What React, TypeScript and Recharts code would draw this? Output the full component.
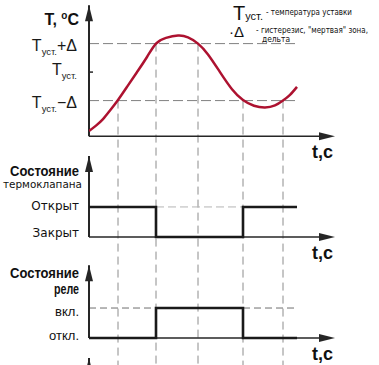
import { ComposedChart, Line, XAxis, YAxis, ReferenceLine, ReferenceDot } from "recharts";

// время, с
const time = [0, 7, 14, 21, 29, 38, 48, 58, 67, 77, 89, 99, 109, 119, 131, 143, 154, 165, 176, 186, 194, 201, 208];
// температура относительно Tуст., в долях Δ
const temperature = [-2.07, -1.88, -1.65, -1.35, -0.98, -0.52, 0.0, 0.53, 1.0, 1.2, 1.28, 1.22, 1.0, 0.62, 0.0, -0.6, -0.98, -1.18, -1.24, -1.17, -1.0, -0.8, -0.52];

const stateTime = [0, 67, 154, 208];
const valveState = [1, 0, 1, 1];
const relayState = [0, 1, 0, 0];

// моменты переключения и уровень, на котором они происходят
const switchTimes = [29, 67, 109, 154, 194];
const switchLevels = [-1, 1, 1, -1, -1];

const tempTicks = [1, 0, -1];
const tempTickSuffix = ["+Δ", "", "−Δ"];
const valveTicks = [1, 0];
const valveTickLabels = ["Открыт", "Закрыт"];
const relayTicks = [1, 0];
const relayTickLabels = ["вкл.", "откл."];

const T_DOMAIN = [-10.28, 2.53];
const V_DOMAIN = [-4.27, 7.9];
const R_DOMAIN = [-0.9, 11.27];
const T_END = 246;
const T_LAST = 208;

const tempData = time.map((t, i) => ({ t, v: temperature[i] }));
const valveData = stateTime.map((t, i) => ({ t, v: valveState[i] }));
const relayData = stateTime.map((t, i) => ({ t, v: relayState[i] }));

const SANS = "'Liberation Sans', Arial, sans-serif";
const WIDE = "'DejaVu Sans', Verdana, sans-serif";
const AXIS = "#262626";

const arrowUp = (p: any) => (
  <path d={`M${p.cx},${p.cy} L${p.cx - 4},${p.cy + 16} L${p.cx + 4},${p.cy + 16} Z`} fill={AXIS} />
);

const arrowRight = (p: any) => (
  <g>
    <path d={`M${p.cx},${p.cy} L${p.cx - 16},${p.cy - 4} L${p.cx - 16},${p.cy + 4} Z`} fill={AXIS} />
    <text x={p.cx - 2} y={p.cy + 22} textAnchor="end" fontFamily={SANS} fontWeight="bold" fontSize={18} fill="#111">
      t,c
    </text>
  </g>
);

function Axes({ id, bottom, top }: { id: string; bottom: number; top: number }) {
  return (
    <>
      <ReferenceLine yAxisId={id} segment={[{ x: 0, y: bottom }, { x: 0, y: top }]} stroke={AXIS} strokeWidth={2} ifOverflow="visible" />
      <ReferenceLine yAxisId={id} segment={[{ x: 0, y: bottom }, { x: T_END - 10, y: bottom }]} stroke={AXIS} strokeWidth={1.6} ifOverflow="visible" />
      <ReferenceDot yAxisId={id} x={0} y={top} r={0} shape={arrowUp} ifOverflow="visible" />
      <ReferenceDot yAxisId={id} x={T_END} y={bottom} r={0} shape={arrowRight} ifOverflow="visible" />
    </>
  );
}

export default function App() {
  return (
    <div style={{ position: "relative", width: 379, height: 365, background: "#fff" }}>
      <style>{"body{margin:0}"}</style>
      <ComposedChart width={379} height={365} margin={{ top: 0, right: 44, bottom: 0, left: 89 }}>
        <XAxis dataKey="t" type="number" domain={[0, T_END]} hide allowDataOverflow />
        <YAxis yAxisId="T" type="number" domain={T_DOMAIN} hide allowDataOverflow />
        <YAxis yAxisId="V" type="number" domain={V_DOMAIN} hide allowDataOverflow />
        <YAxis yAxisId="R" type="number" domain={R_DOMAIN} hide allowDataOverflow />

        {/* сквозные пунктиры от моментов переключения */}
        {switchTimes.map((t, i) => (
          <ReferenceLine
            key={"sw" + i}
            yAxisId="T"
            segment={[{ x: t, y: switchLevels[i] }, { x: t, y: T_DOMAIN[0] }]}
            stroke="#8c8c8c"
            strokeDasharray="8 5"
            ifOverflow="visible"
          />
        ))}

        {/* уровни гистерезиса */}
        <ReferenceLine yAxisId="T" segment={[{ x: 0, y: 1 }, { x: T_LAST, y: 1 }]} stroke="#808080" strokeDasharray="10 4" ifOverflow="visible" />
        <ReferenceLine yAxisId="T" segment={[{ x: 0, y: -1 }, { x: T_LAST, y: -1 }]} stroke="#808080" strokeDasharray="10 4" ifOverflow="visible" />
        <ReferenceLine yAxisId="T" segment={[{ x: 0, y: 0 }, { x: 4, y: 0 }]} stroke={AXIS} strokeWidth={1.5} ifOverflow="visible" />
        <ReferenceLine yAxisId="V" segment={[{ x: stateTime[1], y: 1 }, { x: stateTime[2], y: 1 }]} stroke="#b5b5b5" strokeDasharray="8 4" ifOverflow="visible" />
        <ReferenceLine yAxisId="R" segment={[{ x: 0, y: 1 }, { x: stateTime[1], y: 1 }]} stroke="#6e6e6e" strokeDasharray="7 4" ifOverflow="visible" />
        <ReferenceLine yAxisId="R" segment={[{ x: stateTime[2], y: 1 }, { x: T_LAST, y: 1 }]} stroke="#6e6e6e" strokeDasharray="7 4" ifOverflow="visible" />

        <Axes id="T" bottom={-2.25} top={2.35} />
        <Axes id="V" bottom={0} top={2.7} />
        <Axes id="R" bottom={0} top={2.43} />
        {/* начало следующей оси, обрезано снизу */}
        <ReferenceLine yAxisId="R" segment={[{ x: 0, y: R_DOMAIN[0] }, { x: 0, y: -0.67 }]} stroke={AXIS} strokeWidth={2} ifOverflow="visible" />
        <ReferenceDot yAxisId="R" x={0} y={-0.67} r={0} shape={arrowUp} ifOverflow="visible" />

        {/* подписи осей */}
        <ReferenceDot
          yAxisId="T" x={0} y={2.35} r={0} ifOverflow="visible"
          shape={(p: any) => (
            <text x={p.cx - 10} y={p.cy + 20} textAnchor="end" fontFamily={SANS} fontWeight="bold" fontSize={16} fill="#111">
              T, <tspan fontSize={10} dy={-6}>o</tspan><tspan dy={6}>C</tspan>
            </text>
          )}
        />
        {tempTicks.map((v, i) => (
          <ReferenceDot
            key={"tt" + i}
            yAxisId="T" x={0} y={v} r={0} ifOverflow="visible"
            shape={(p: any) => (
              <text x={p.cx - 12} y={p.cy + (v === 0 ? 3 : 7)} textAnchor="end" fontFamily={SANS} fill="#1a1a1a">
                <tspan fontSize={16}>T</tspan>
                <tspan fontSize={9.5} dy={4}>уст.</tspan>
                <tspan fontSize={16} dy={-4}>{tempTickSuffix[i]}</tspan>
              </text>
            )}
          />
        ))}

        <ReferenceDot
          yAxisId="V" x={0} y={2.7} r={0} ifOverflow="visible"
          shape={(p: any) => (
            <g fill="#111">
              <text x={p.cx - 10} y={p.cy + 20} textAnchor="end" fontFamily={SANS} fontWeight="bold" fontSize={15} textLength={69} lengthAdjust="spacingAndGlyphs">
                Состояние
              </text>
              <text x={p.cx - 7} y={p.cy + 32} textAnchor="end" fontFamily={WIDE} fontSize={11} textLength={79} lengthAdjust="spacingAndGlyphs">
                термоклапана
              </text>
            </g>
          )}
        />
        {valveTicks.map((v, i) => (
          <ReferenceDot
            key={"vt" + i}
            yAxisId="V" x={0} y={v} r={0} ifOverflow="visible"
            shape={(p: any) => (
              <text x={p.cx - 10} y={p.cy + (v === 1 ? 3.5 : 0)} textAnchor="end" fontFamily={WIDE} fontSize={12} fill="#111">
                {valveTickLabels[i]}
              </text>
            )}
          />
        ))}

        <ReferenceDot
          yAxisId="R" x={0} y={2.43} r={0} ifOverflow="visible"
          shape={(p: any) => (
            <g fill="#111" fontFamily={SANS} fontWeight="bold" fontSize={15}>
              <text x={p.cx - 10} y={p.cy + 13} textAnchor="end" textLength={69} lengthAdjust="spacingAndGlyphs">
                Состояние
              </text>
              <text x={p.cx - 10} y={p.cy + 28.5} textAnchor="end" textLength={25} lengthAdjust="spacingAndGlyphs">
                реле
              </text>
            </g>
          )}
        />
        {relayTicks.map((v, i) => (
          <ReferenceDot
            key={"rt" + i}
            yAxisId="R" x={0} y={v} r={0} ifOverflow="visible"
            shape={(p: any) => (
              <text x={p.cx - 10} y={p.cy + (v === 1 ? 8 : 2)} textAnchor="end" fontFamily={SANS} fontSize={13} fill="#111">
                {relayTickLabels[i]}
              </text>
            )}
          />
        ))}

        <Line yAxisId="T" data={tempData} dataKey="v" type="natural" stroke="#ad1230" strokeWidth={2.5} dot={false} isAnimationActive={false} />
        <Line yAxisId="V" data={valveData} dataKey="v" type="stepAfter" stroke="#1a1a1a" strokeWidth={2.6} dot={false} isAnimationActive={false} />
        <Line yAxisId="R" data={relayData} dataKey="v" type="stepAfter" stroke="#1a1a1a" strokeWidth={2.6} dot={false} isAnimationActive={false} />
      </ComposedChart>

      <svg width={379} height={60} style={{ position: "absolute", left: 0, top: 0, pointerEvents: "none" }}>
        <text x={233} y={20} fontFamily={SANS} fill="#111">
          <tspan fontSize={20}>T</tspan>
          <tspan fontSize={11} dy={0}>уст.</tspan>
        </text>
        <text x={266} y={15} fontFamily={WIDE} fontSize={8.5} fill="#111" textLength={86} lengthAdjust="spacingAndGlyphs">
          - температура уставки
        </text>
        <text x={229} y={37} fontFamily={SANS} fontSize={15} fill="#111">
          ·Δ
        </text>
        <text x={256} y={33} fontFamily={WIDE} fontSize={8} fill="#111" textLength={112} lengthAdjust="spacingAndGlyphs">
          - гистерезис, "мертвая" зона,
        </text>
        <text x={262} y={42} fontFamily={WIDE} fontSize={8.5} fill="#111" textLength={28} lengthAdjust="spacingAndGlyphs">
          дельта
        </text>
      </svg>
    </div>
  );
}
